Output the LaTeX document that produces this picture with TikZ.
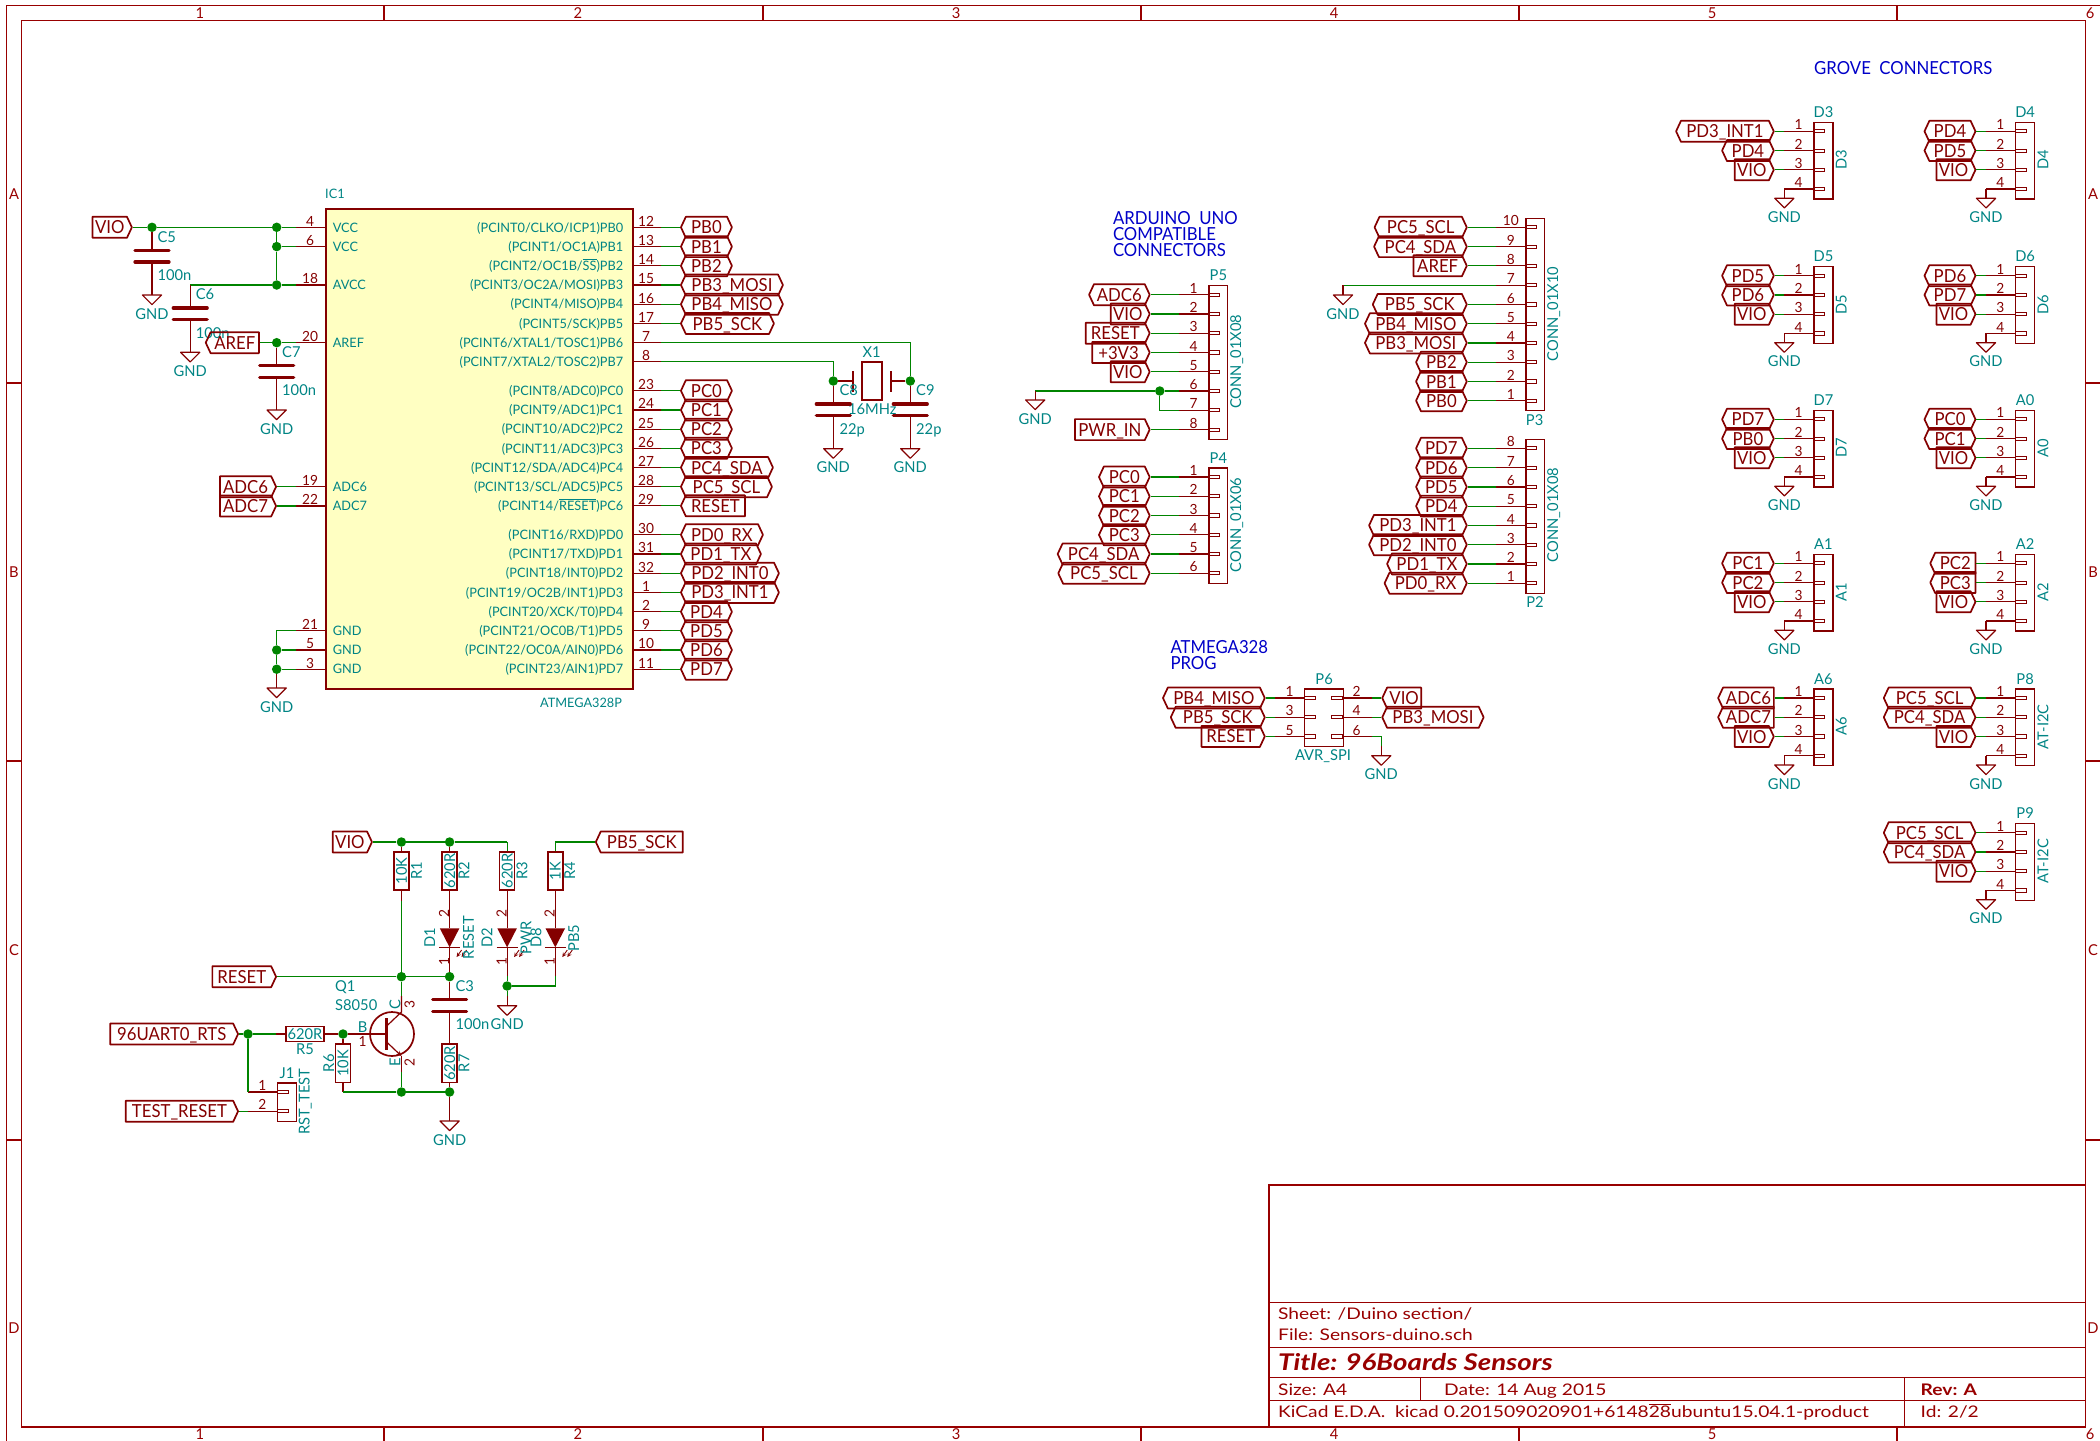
\documentclass[tikz,border=0pt]{standalone}
\usepackage{fontspec}
\setmainfont[FakeStretch=0.98]{Lato}
\newfontfamily\labelface[FakeStretch=0.93]{Lato}
\newfontfamily\sheetface[FakeStretch=1.2]{Lato}
\usepackage{tikz}
\usetikzlibrary{shapes, positioning, calc}
\definecolor{kired}{HTML}{840000}
\definecolor{kiframe}{HTML}{980000}
\definecolor{kigreen}{HTML}{008400}
\definecolor{kiteal}{HTML}{008484}
\definecolor{kiblue}{HTML}{0000C8}
\definecolor{kiyellow}{HTML}{FFFFC2}

\newcommand{\labelfont}{\labelface\fontsize{18}{16}\selectfont}
\newcommand{\fieldfont}{\fontsize{15}{15}\selectfont}
\newcommand{\pinfont}{\fontsize{13}{13}\selectfont}
\newcommand{\numfont}{\fontsize{14}{14}\selectfont}
\newcommand{\sheetfont}{\sheetface\fontsize{16}{16}\selectfont}
\newcommand{\pinbar}[1]{$\overline{\mbox{#1}}$}

% SYMBOLS
\newcommand{\gndsym}[3]{%
  \coordinate (#1) at (#2,#3);
  \draw[symline] (#2-9.6,#3) -- (#2+9.6,#3) -- (#2,#3+9.6) -- cycle;
  \node[fieldtext] (#1text) at (#2,#3+18.6) {GND};
}
\newcommand{\capsym}[3]{%
  \coordinate (#1t) at (#2,#3);
  \coordinate (#1b) at (#2,#3+11.6);
  \draw[plate] (#2-17,#3) -- (#2+17,#3);
  \draw[plate] (#2-17,#3+11.6) -- (#2+17,#3+11.6);
}
\newcommand{\ledsym}[2]{%
  \coordinate (#1a) at (#2,928.3);
  \coordinate (#1k) at (#2,947.3);
  \fill[kired] (#1a) ++(-9.8,0) -- ++(19.6,0) -- (#1k) -- cycle;
  \draw[symline] (#2-10.5,947.3) -- (#2+10.5,947.3);
  \draw[symthin, -stealth] (#2+12,950) -- (#2+7,957);
  \draw[symthin, -stealth] (#2+17,950) -- (#2+12,957);
  \node[pinnum, rotate=90] (#1two) at (#2-5.6,914) {2};
  \node[pinnum, rotate=90] (#1one) at (#2-5.6,961.7) {1};
}
% connector pin entering a box from the left, #4 is the box edge
\newcommand{\connpin}[4]{%
  \coordinate (#1-s) at (#4-29,#3);
  \draw[pinline] (#1-s) -- (#4,#3);
  \draw[symthin] (#4,#3-1.6) rectangle (#4+11.5,#3+1.6);
  \node[pinnum] (#1-n) at (#4-14.6,#3-6.4) {#2};
}
% the same from the right
\newcommand{\connpinr}[4]{%
  \coordinate (#1-s) at (#4+29,#3);
  \draw[pinline] (#1-s) -- (#4,#3);
  \draw[symthin] (#4,#3-1.6) rectangle (#4-11,#3+1.6);
  \node[pinnum] (#1-n) at (#4+13.8,#3-6.4) {#2};
}

\begin{document}
\begin{tikzpicture}[x=1pt, y=-1pt,
    wire/.style={draw=kigreen, line width=1.2pt},
    pinline/.style={draw=kired, line width=1.2pt},
    symline/.style={draw=kired, line width=1.2pt, line join=round},
    symthin/.style={draw=kired, line width=0.9pt},
    plate/.style={draw=kired, line width=3.2pt, line cap=round},
    framel/.style={draw=kiframe, line width=1.2pt},
    dot/.style={circle, fill=kigreen, inner sep=0pt, minimum size=9.5pt},
    glabel/.style={signal, draw=kired, line width=1.7pt, line join=round,
      signal pointer angle=130, minimum height=21pt, inner xsep=0pt,
      inner ysep=0pt, text=kired, font=\labelfont, text height=13pt, text depth=0pt},
    hexlabel/.style={glabel, signal to=west and east},
    inlabel/.style={glabel, signal to=east},
    outlabel/.style={glabel, signal to=west},
    fieldtext/.style={text=kiteal, font=\fieldfont, inner sep=0pt,
      text height=10.8pt, text depth=0pt},
    pintext/.style={text=kiteal, font=\pinfont, inner sep=0pt,
      text height=9.4pt, text depth=0pt},
    pinnum/.style={text=kired, font=\numfont, inner sep=0pt,
      text height=10pt, text depth=0pt},
    bluetext/.style={text=kiblue, font=\labelfont, inner sep=0pt, align=left},
    sheettext/.style={text=kiframe, font=\sheetfont, inner sep=0pt, anchor=west,
      text height=11.5pt, text depth=0pt},
    zonetext/.style={text=kiframe, font=\fieldfont, inner sep=0pt,
      text height=10.8pt, text depth=0pt},
    connbox/.style={draw=kired, line width=1.2pt, inner sep=0pt, anchor=north west},
    resh/.style={draw=kired, line width=1.7pt, minimum width=38.6pt,
      minimum height=15pt, inner sep=0pt, text=kiteal, font=\fieldfont,
      text height=10.8pt, text depth=0pt},
    resv/.style={resh, rotate=90}]

  \useasboundingbox (0,0) rectangle (2100,1440);
  \clip (0,0) rectangle (2100,1440);

  % FRAME

  \draw[framel] (6.3,5.7) rectangle (2110,1450);
  \draw[framel] (21.7,20.3) rectangle (2085.7,1427);
  \foreach \tx in {384,763,1141,1519,1897} {
    \draw[framel] (\tx,5.7) -- (\tx,20.3);
    \draw[framel] (\tx,1427) -- (\tx,1445);
  }
  \foreach \ty in {383,761,1140} {
    \draw[framel] (6.3,\ty) -- (21.7,\ty);
    \draw[framel] (2085.7,\ty) -- (2105,\ty);
  }
  \foreach \zn/\tx in {1/200,2/578,3/956,4/1334,5/1712,6/2090} {
    \node[zonetext] (zonetop\zn) at (\tx,13) {\zn};
    \node[zonetext] (zonebot\zn) at (\tx,1434.5) {\zn};
  }
  \foreach \zn/\ty in {A/194,B/572,C/950,D/1328} {
    \node[zonetext] (zoneleft\zn) at (14,\ty) {\zn};
    \node[zonetext] (zoneright\zn) at (2093,\ty) {\zn};
  }

  % TITLE BLOCK

  \draw[framel] (1269,1185) rectangle (2085.7,1427);
  \draw[framel] (1269,1302.3) -- (2085.7,1302.3);
  \draw[framel] (1269,1347.7) -- (2085.7,1347.7);
  \draw[framel] (1269,1377.7) -- (2085.7,1377.7);
  \draw[framel] (1269,1400.3) -- (2085.7,1400.3);
  \draw[framel] (1420.7,1377.7) -- (1420.7,1400.3);
  \draw[framel] (1904.2,1377.7) -- (1904.2,1427);
  \node[sheettext] (sheetname) at (1278,1314) {Sheet: /Duino section/};
  \node[sheettext] (sheetfile) at (1278,1334.7) {File: Sensors-duino.sch};
  \node[sheettext, font=\sheetface\fontsize{23}{23}\selectfont\bfseries\itshape,
    text height=16.5pt] (sheettitle) at (1278,1362.3) {Title: 96Boards Sensors};
  \node[sheettext] (sheetsize) at (1278,1390) {Size: A4};
  \node[sheettext] (sheetdate) at (1444,1390) {Date: 14 Aug 2015};
  \node[sheettext, font=\sheetfont\bfseries] (sheetrev) at (1920.5,1390) {Rev: A};
  \node[sheettext] (sheetkicad) at (1278,1411.7)
    {KiCad E.D.A.\ \ kicad 0.201509020901+6148\pinbar{28}ubuntu15.04.1-product};
  \node[sheettext] (sheetid) at (1920.5,1411.7) {Id: 2/2};

  % ATMEGA

  \node[draw=kired, line width=2pt, fill=kiyellow, minimum width=307pt,
    minimum height=480pt, inner sep=0pt, anchor=north west] (ic) at (325,208) {};
  \node[pintext, anchor=west] (icname) at (325,193.3) {IC1};
  \node[pintext] (icvalue) at (581,702.7) {ATMEGA328P};

  \foreach \y/\n/\ptxt/\shp/\lbw/\net in {
    227.3/12/{(PCINT0/CLKO/ICP1)PB0}/hexlabel/51/PB0,
    246.6/13/{(PCINT1/OC1A)PB1}/hexlabel/51/PB1,
    265.8/14/{(PCINT2/OC1B/\pinbar{SS})PB2}/hexlabel/51/PB2,
    285/15/{(PCINT3/OC2A/MOSI)PB3}/hexlabel/102/{PB3\_MOSI},
    304.2/16/{(PCINT4/MISO)PB4}/hexlabel/102/{PB4\_MISO},
    323.5/17/{(PCINT5/SCK)PB5}/hexlabel/93/{PB5\_SCK},
    390.7/23/{(PCINT8/ADC0)PC0}/hexlabel/51/PC0,
    410/24/{(PCINT9/ADC1)PC1}/hexlabel/51/PC1,
    429.2/25/{(PCINT10/ADC2)PC2}/hexlabel/51/PC2,
    448.3/26/{(PCINT11/ADC3)PC3}/hexlabel/51/PC3,
    467.5/27/{(PCINT12/SDA/ADC4)PC4}/hexlabel/92/{PC4\_SDA},
    486.7/28/{(PCINT13/SCL/ADC5)PC5}/hexlabel/91/{PC5\_SCL},
    505.8/29/{(PCINT14/\pinbar{RESET})PC6}/outlabel/64/RESET,
    534.7/30/{(PCINT16/RXD)PD0}/hexlabel/82/{PD0\_RX},
    554/31/{(PCINT17/TXD)PD1}/hexlabel/80/{PD1\_TX},
    573.2/32/{(PCINT18/INT0)PD2}/hexlabel/98/{PD2\_INT0},
    592.4/1/{(PCINT19/OC2B/INT1)PD3}/hexlabel/98/{PD3\_INT1},
    611.7/2/{(PCINT20/XCK/T0)PD4}/hexlabel/51/PD4,
    630.8/9/{(PCINT21/OC0B/T1)PD5}/hexlabel/51/PD5,
    650/10/{(PCINT22/OC0A/AIN0)PD6}/hexlabel/51/PD6,
    669.2/11/{(PCINT23/AIN1)PD7}/hexlabel/51/PD7} {
    \coordinate (pe\n) at (660.7,\y);
    \node[\shp, minimum width=\lbw pt, anchor=west] (lab\n) at (680,\y) {\net};
    \draw[wire] (pe\n) -- (lab\n.west);
    \draw[pinline] (632,\y) -- (pe\n);
    \node[pinnum] (pn\n) at (646,\y-6.2) {\n};
    \node[pintext, anchor=east] (pt\n) at (623.4,\y) {\ptxt};
  }
  \foreach \y/\n/\ptxt in {342.7/7/{(PCINT6/XTAL1/TOSC1)PB6},
    361.7/8/{(PCINT7/XTAL2/TOSC2)PB7}} {
    \coordinate (pe\n) at (660.7,\y);
    \draw[pinline] (632,\y) -- (pe\n);
    \node[pinnum] (pn\n) at (646,\y-6.2) {\n};
    \node[pintext, anchor=east] (pt\n) at (623.4,\y) {\ptxt};
  }
  \foreach \y/\n/\ptxt in {227.3/4/VCC, 246.6/6/VCC, 285/18/AVCC, 342.7/20/AREF,
    486.7/19/ADC6, 506/22/ADC7, 630.8/21/GND, 650/5/GND, 669.2/3/GND} {
    \coordinate (pw\n) at (296,\y);
    \draw[pinline] (325,\y) -- (pw\n);
    \node[pinnum] (pn\n) at (310,\y-6.2) {\n};
    \node[pintext, anchor=west] (pt\n) at (332.6,\y) {\ptxt};
  }

  % SUPPLY AND DECOUPLING

  \node[inlabel, minimum width=39.4pt, anchor=east] (vioic) at (132.8,227.3) {VIO};
  \node[dot] (dotcfive) at (152,227.3) {};
  \node[dot] (dotvcc) at (276.7,227.3) {};
  \node[dot] (dotvcctwo) at (276.7,246.6) {};
  \node[dot] (dotavcc) at (276.7,285) {};
  \node[dot] (dotaref) at (276.7,342.7) {};
  \draw[wire] (vioic.east) -- (dotcfive) -- (dotvcc) -- (pw4);
  \draw[wire] (dotvcc) -- (dotvcctwo) -- (dotavcc);
  \draw[wire] (dotvcctwo) -- (pw6);
  \draw[wire] (dotavcc) -- (pw18);
  \capsym{cfive}{152}{250.3}
  \gndsym{gndcfive}{152}{295}
  \draw[pinline] (dotcfive) -- (cfivet);
  \draw[pinline] (cfiveb) -- (gndcfive);
  \node[fieldtext, anchor=west] (cfivename) at (157.3,236.7) {C5};
  \node[fieldtext, anchor=west] (cfivevalue) at (157.3,275) {100n};

  \capsym{csix}{190.2}{308}
  \gndsym{gndcsix}{190.2}{352.3}
  \draw[wire] (dotavcc) -- (190.2,285);
  \draw[pinline] (190.2,285) -- (csixt);
  \draw[pinline] (csixb) -- (gndcsix);
  \node[fieldtext, anchor=west] (csixname) at (195.6,294) {C6};
  \node[fieldtext, anchor=west] (csixvalue) at (195.6,332.7) {100n};

  \node[outlabel, minimum width=53.2pt, anchor=west] (arefic) at (204.8,342.7) {AREF};
  \draw[wire] (arefic.east) -- (dotaref) -- (pw20);
  \capsym{cseven}{276.7}{365.7}
  \gndsym{gndcseven}{276.7}{410}
  \draw[pinline] (dotaref) -- (csevent);
  \draw[pinline] (csevenb) -- (gndcseven);
  \node[fieldtext, anchor=west] (csevenname) at (282,351.7) {C7};
  \node[fieldtext, anchor=west] (csevenvalue) at (282,390) {100n};

  \node[inlabel, minimum width=56pt, anchor=east] (adcsix) at (277,486.7) {ADC6};
  \node[inlabel, minimum width=56pt, anchor=east] (adcseven) at (277,506) {ADC7};
  \draw[wire] (adcsix.east) -- (pw19);
  \draw[wire] (adcseven.east) -- (pw22);

  \node[dot] (dotgndtwo) at (276.7,650) {};
  \node[dot] (dotgndthree) at (276.7,669.2) {};
  \gndsym{gndic}{276.7}{688}
  \draw[wire] (pw21) -- (276.7,630.8) -- (dotgndtwo) -- (dotgndthree);
  \draw[wire] (dotgndtwo) -- (pw5);
  \draw[wire] (dotgndthree) -- (pw3);
  \draw[pinline] (dotgndthree) -- (gndic);

  % CRYSTAL

  \node[dot] (dotceight) at (833.3,381) {};
  \node[dot] (dotcnine) at (910.3,381) {};
  \draw[wire] (pe8) -- (833.3,361.7) -- (dotceight);
  \draw[wire] (pe7) -- (910.3,342.7) -- (dotcnine);
  \node[draw=kired, line width=1.7pt, minimum width=19.4pt, minimum height=38.6pt,
    inner sep=0pt] (xtal) at (872,381) {};
  \coordinate (xtalleft) at (852.7,381);
  \coordinate (xtalright) at (891,381);
  \draw[line width=2pt, draw=kired] (852.7,371) -- (852.7,391.7);
  \draw[line width=2pt, draw=kired] (891,371) -- (891,391.7);
  \draw[pinline] (dotceight) -- (xtalleft);
  \draw[pinline] (dotcnine) -- (xtalright);
  \node[fieldtext] (xtalname) at (871.7,352.3) {X1};
  \node[fieldtext] (xtalvalue) at (872.3,409.3) {16MHz};
  \capsym{ceight}{833.3}{404}
  \capsym{cnine}{910.3}{404}
  \gndsym{gndceight}{833.3}{448.7}
  \gndsym{gndcnine}{910.3}{448.7}
  \draw[pinline] (dotceight) -- (ceightt);
  \draw[pinline] (ceightb) -- (gndceight);
  \draw[pinline] (dotcnine) -- (cninet);
  \draw[pinline] (cnineb) -- (gndcnine);
  \node[fieldtext, anchor=west] (ceightname) at (839.3,390) {C8};
  \node[fieldtext, anchor=west] (ceightvalue) at (839.3,429) {22p};
  \node[fieldtext, anchor=west] (cninename) at (916,390) {C9};
  \node[fieldtext, anchor=west] (cninevalue) at (916,429) {22p};

  % RESET AND LEDS

  \node[inlabel, minimum width=39.2pt, anchor=east] (vioreset) at (372.9,842) {VIO};
  \node[dot] (dotrone) at (401.4,842) {};
  \node[dot] (dotrtwo) at (449.6,842) {};
  \node[resv] (rone) at (401.4,871) {10K};
  \node[resv] (rtwo) at (449.6,871) {620R};
  \node[resv] (rthree) at (507.1,871) {620R};
  \node[resv] (rfour) at (555.3,871) {1K};
  \node[outlabel, minimum width=87pt, anchor=west] (sckled) at (594.9,842) {PB5\_SCK};
  \draw[wire] (vioreset.east) -- (dotrone) -- (dotrtwo) -- (507.1,842);
  \draw[wire] (sckled.west) -- (555.3,842);
  \draw[pinline] (dotrone) -- (rone.east);
  \draw[pinline] (dotrtwo) -- (rtwo.east);
  \draw[wire] (507.1,842) -- (rthree.east);
  \draw[wire] (555.3,842) -- (rfour.east);
  \foreach \rname/\rx/\rl in {R1/416.5/rone, R2/464/rtwo, R3/522/rthree, R4/569.6/rfour} {
    \node[fieldtext, rotate=90] (\rl name) at (\rx,871) {\rname};
  }

  \ledsym{done}{449.6}
  \ledsym{dtwo}{507.1}
  \ledsym{deight}{555.3}
  \draw[pinline] (rtwo.west) -- (donea);
  \draw[pinline] (rthree.west) -- (dtwoa);
  \draw[pinline] (rfour.west) -- (deighta);
  \node[fieldtext, rotate=90] (donename) at (429.6,938) {D1};
  \node[fieldtext, rotate=90] (donevalue) at (468.4,937.7) {RESET};
  \node[fieldtext, rotate=90] (dtwoname) at (487,938) {D2};
  \node[fieldtext, rotate=90] (dtwovalue) at (526,938) {PWR};
  \node[fieldtext, rotate=90] (deightname) at (536,937.7) {D8};
  \node[fieldtext, rotate=90] (deightvalue) at (573.7,938) {PB5};

  \node[inlabel, minimum width=63.7pt, anchor=east] (resetin) at (277,976.7) {RESET};
  \node[dot] (dotreset) at (401.4,976.7) {};
  \node[dot] (dotcthree) at (449.6,976.7) {};
  \node[dot] (dotledgnd) at (507.1,986) {};
  \draw[wire] (resetin.east) -- (dotreset) -- (dotcthree);
  \draw[wire] (rone.west) -- (dotreset) -- (401.4,1012);
  \draw[pinline] (rone.west) -- ++(0,9.7);
  \draw[pinline] (donek) -- (dotcthree);
  \draw[pinline] (dtwok) -- (507.1,976);
  \draw[wire] (507.1,976) -- (dotledgnd);
  \draw[pinline] (deightk) -- (555.3,976);
  \draw[wire] (555.3,976) -- (555.3,986) -- (dotledgnd);
  \gndsym{gndled}{507.1}{1005.7}
  \draw[wire] (dotledgnd) -- (507.1,996);
  \draw[pinline] (507.1,996) -- (gndled);

  \capsym{cthree}{449.6}{999.7}
  \node[resv] (rseven) at (449.6,1063.2) {620R};
  \node[dot] (dotrseven) at (449.6,1092) {};
  \gndsym{gndrseven}{449.6}{1121}
  \draw[pinline] (dotcthree) -- (cthreet);
  \draw[pinline] (cthreeb) -- (rseven.east);
  \draw[pinline] (rseven.west) -- (dotrseven) -- (gndrseven);
  \node[fieldtext, anchor=west] (cthreename) at (455.3,985.7) {C3};
  \node[fieldtext, anchor=west] (cthreevalue) at (455.3,1024) {100n};
  \node[fieldtext, rotate=90] (rsevenname) at (464,1063.2) {R7};

  % TRANSISTOR

  \node[circle, draw=kired, line width=1.7pt, minimum size=44pt, inner sep=0pt] (qone) at (392,1034) {};
  \draw[line width=3pt, draw=kired] (386.7,1018) -- (386.7,1050);
  \coordinate (qbase) at (386.7,1034);
  \coordinate (qcoll) at (401.4,1012);
  \coordinate (qemit) at (401.4,1056);
  \draw[pinline] (386.7,1026) -- (qcoll) -- (401.4,996);
  \draw[pinline, -stealth] (386.7,1042) -- (qemit);
  \node[dot] (dotemit) at (401.4,1092) {};
  \node[dot] (dotbase) at (343,1034) {};
  \draw[pinline] (qemit) -- (401.4,1072);
  \draw[wire] (401.4,1072) -- (dotemit);
  \draw[pinline] (dotbase) -- (qbase);
  \node[fieldtext, anchor=west] (qonename) at (335,985.7) {Q1};
  \node[fieldtext, anchor=west] (qonevalue) at (335,1005) {S8050};
  \node[fieldtext, rotate=90] (qonec) at (395,1005) {C};
  \node[pinnum, rotate=90] (qonethree) at (409.6,1005) {3};
  \node[fieldtext] (qoneb) at (362.7,1027) {B};
  \node[pinnum] (qoneone) at (362.7,1041.7) {1};
  \node[fieldtext, rotate=90] (qonee) at (395,1062.3) {E};
  \node[pinnum, rotate=90] (qonetwo) at (409.6,1062.3) {2};

  \node[inlabel, minimum width=127.8pt, anchor=east] (rts) at (239,1034) {96UART0\_RTS};
  \node[dot] (dotrts) at (248,1034) {};
  \node[resh] (rfive) at (305,1034) {620R};
  \node[resv] (rsix) at (343,1063.2) {10K};
  \draw[wire] (rts.east) -- (dotrts) -- (276,1034);
  \draw[pinline] (276,1034) -- (rfive.west);
  \draw[pinline] (rfive.east) -- (dotbase);
  \draw[pinline] (dotbase) -- (rsix.east);
  \draw[pinline] (rsix.west) -- (343,1092);
  \draw[wire] (343,1092) -- (dotemit) -- (dotrseven);
  \node[fieldtext] (rfivename) at (305,1049) {R5};
  \node[fieldtext, rotate=90] (rsixname) at (328.8,1063.2) {R6};

  \node[connbox, minimum width=18.7pt, minimum height=38.7pt] (jone) at (277,1082.3) {};
  \connpin{jone1}{1}{1092}{277}
  \connpin{jone2}{2}{1111.3}{277}
  \node[inlabel, minimum width=112.3pt, anchor=east] (testreset) at (239,1111.3) {TEST\_RESET};
  \draw[wire] (dotrts) -- (jone1-s);
  \draw[wire] (testreset.east) -- (jone2-s);
  \node[fieldtext, above=4pt of jone] (jonename) {J1};
  \node[fieldtext, rotate=90] (jonevalue) at (304.3,1101.7) {RST\_TEST};

  % UNO CONNECTORS

  \node[bluetext, anchor=north west] (unotitle) at (1112.8,211)
    {ARDUINO\ \ UNO\\COMPATIBLE\\CONNECTORS};

  \node[connbox, minimum width=18.9pt, minimum height=154pt] (pfive) at (1208.3,285) {};
  \node[fieldtext, above=4pt of pfive] (pfivename) {P5};
  \node[fieldtext, rotate=90] (pfivevalue) at (1235.7,361.7) {CONN\_01X08};
  \foreach \n/\y/\shp/\lbw/\net in {1/294.7/hexlabel/60.6/ADC6, 2/314/inlabel/38.9/VIO,
    3/333.2/inlabel/64/RESET, 4/352.5/inlabel/57.4/+3V3, 5/371.8/inlabel/38.9/VIO,
    8/429.6/inlabel/74.7/{PWR\_IN}} {
    \connpin{pfive\n}{\n}{\y}{1208.3}
    \node[\shp, minimum width=\lbw pt, anchor=east] (pfivelab\n) at (1150.6,\y) {\net};
    \draw[wire] (pfivelab\n.east) -- (pfive\n-s);
  }
  \connpin{pfive6}{6}{391}{1208.3}
  \connpin{pfive7}{7}{410.3}{1208.3}
  \node[dot] (dotpfive) at (1159.8,391) {};
  \gndsym{gndpfive}{1035.2}{400}
  \draw[wire] (pfive6-s) -- (dotpfive) -- (1035.2,391);
  \draw[wire] (dotpfive) -- (1159.8,410.3) -- (pfive7-s);
  \draw[pinline] (1035.2,391) -- (gndpfive);

  \node[connbox, minimum width=18.9pt, minimum height=115.4pt] (pfour) at (1208.3,467.3) {};
  \node[fieldtext, above=4pt of pfour] (pfourname) {P4};
  \node[fieldtext, rotate=90] (pfourvalue) at (1235.7,525) {CONN\_01X06};
  \foreach \n/\y/\lbw/\net in {1/477/50.7/PC0, 2/496.3/50.7/PC1, 3/515.5/50.7/PC2,
    4/534.8/50.7/PC3, 5/554/92/{PC4\_SDA}, 6/573.3/91.4/{PC5\_SCL}} {
    \connpin{pfour\n}{\n}{\y}{1208.3}
    \node[hexlabel, minimum width=\lbw pt, anchor=east] (pfourlab\n) at (1150.6,\y) {\net};
    \draw[wire] (pfourlab\n.east) -- (pfour\n-s);
  }

  \node[connbox, minimum width=18.8pt, minimum height=192.3pt] (pthree) at (1525.4,217.7) {};
  \node[fieldtext] (pthreename) at (1534.6,420) {P3};
  \node[fieldtext, rotate=90] (pthreevalue) at (1552.7,314) {CONN\_01X10};
  \foreach \n/\y/\shp/\lbw/\net in {10/227.3/hexlabel/92.2/{PC5\_SCL}, 9/246.6/hexlabel/92.7/{PC4\_SDA},
    8/265.8/inlabel/53.3/AREF, 6/304.4/hexlabel/94/{PB5\_SCK}, 5/323.7/hexlabel/101.8/{PB4\_MISO},
    4/342.9/hexlabel/101.8/{PB3\_MOSI}, 3/362.2/hexlabel/50.7/PB2, 2/381.5/hexlabel/50.7/PB1,
    1/400.7/hexlabel/50.7/PB0} {
    \connpin{pthree\n}{\n}{\y}{1525.4}
    \node[\shp, minimum width=\lbw pt, anchor=east] (pthreelab\n) at (1467.7,\y) {\net};
    \draw[wire] (pthreelab\n.east) -- (pthree\n-s);
  }
  \connpin{pthree7}{7}{285.1}{1525.4}
  \gndsym{gndpthree}{1343}{295}
  \draw[wire] (pthree7-s) -- (1343,285.1);
  \draw[pinline] (1343,285.1) -- (gndpthree);

  \node[connbox, minimum width=18.8pt, minimum height=154pt] (ptwo) at (1525.4,438.7) {};
  \node[fieldtext] (ptwoname) at (1535,602.3) {P2};
  \node[fieldtext, rotate=90] (ptwovalue) at (1552.7,515) {CONN\_01X08};
  \foreach \n/\y/\lbw/\net in {8/448.3/50.7/PD7, 7/467.6/50.7/PD6, 6/486.9/50.7/PD5,
    5/506.1/50.7/PD4, 4/525.4/97.7/{PD3\_INT1}, 3/544.7/97.7/{PD2\_INT0},
    2/563.9/79.7/{PD1\_TX}, 1/583.2/82.2/{PD0\_RX}} {
    \connpin{ptwo\n}{\n}{\y}{1525.4}
    \node[hexlabel, minimum width=\lbw pt, anchor=east] (ptwolab\n) at (1467.7,\y) {\net};
    \draw[wire] (ptwolab\n.east) -- (ptwo\n-s);
  }

  % PROG HEADER

  \node[bluetext, anchor=north west] (progtitle) at (1170.3,640) {ATMEGA328\\PROG};
  \node[connbox, minimum width=38.6pt, minimum height=57.7pt] (psix) at (1304.2,688.3) {};
  \node[fieldtext, above=4pt of psix] (psixname) {P6};
  \node[fieldtext] (psixvalue) at (1323,755) {AVR\_SPI};
  \foreach \n/\y/\shp/\lbw/\net in {1/698/hexlabel/101.8/{PB4\_MISO}, 3/717.3/hexlabel/94/{PB5\_SCK},
    5/736.4/inlabel/63.2/RESET} {
    \connpin{psix\n}{\n}{\y}{1304.2}
    \node[\shp, minimum width=\lbw pt, anchor=east] (psixlab\n) at (1265.7,\y) {\net};
    \draw[wire] (psixlab\n.east) -- (psix\n-s);
  }
  \foreach \n/\y/\shp/\lbw/\net in {2/698/outlabel/38.9/VIO, 4/717.3/hexlabel/101.4/{PB3\_MOSI}} {
    \connpinr{psix\n}{\n}{\y}{1342.8}
    \node[\shp, minimum width=\lbw pt, anchor=west] (psixlab\n) at (1381.3,\y) {\net};
    \draw[wire] (psixlab\n.west) -- (psix\n-s);
  }
  \connpinr{psix6}{6}{736.4}{1342.8}
  \gndsym{gndpsix}{1381.3}{755.7}
  \draw[wire] (psix6-s) -- (1381.3,736.4) -- (1381.3,746);
  \draw[pinline] (1381.3,746) -- (gndpsix);

  % GROVE CONNECTORS

  \node[bluetext, anchor=west] (grovetitle) at (1814,67.7) {GROVE\ \ CONNECTORS};
  \foreach \gname/\gside/\gx/\gy/\sha/\wda/\txa/\shb/\wdb/\txb in {
    D3/D3/1813.3/131.3/hexlabel/97.7/{PD3\_INT1}/hexlabel/51.7/PD4,
    D4/D4/2015/131.3/hexlabel/51/PD4/hexlabel/51/PD5,
    D5/D5/1813.3/275.7/hexlabel/51.7/PD5/hexlabel/51.7/PD6,
    D6/D6/2015/275.7/hexlabel/51/PD6/hexlabel/51/PD7,
    D7/D7/1813.3/419.3/hexlabel/51.7/PD7/hexlabel/51.7/PB0,
    A0/A0/2015/419.3/hexlabel/51/PC0/hexlabel/51/PC1,
    A1/A1/1813.3/563.3/hexlabel/51.7/PC1/hexlabel/51.7/PC2,
    A2/A2/2015/563.3/outlabel/45.3/PC2/outlabel/45.3/PC3,
    A6/A6/1813.3/698/outlabel/55.7/ADC6/outlabel/55.7/ADC7,
    P8/AT-I2C/2015/698/hexlabel/91.7/{PC5\_SCL}/hexlabel/91.7/{PC4\_SDA},
    P9/AT-I2C/2015/832.7/hexlabel/91.7/{PC5\_SCL}/hexlabel/91.7/{PC4\_SDA}} {
    \node[connbox, minimum width=19pt, minimum height=76.7pt] (\gname box) at (\gx,\gy-9.6) {};
    \node[fieldtext, above=4pt of \gname box] (\gname name) {\gname};
    \node[fieldtext, rotate=90] (\gname side) at (\gx+28,\gy+28.7) {\gside};
    \connpin{\gname one}{1}{\gy}{\gx}
    \connpin{\gname two}{2}{\gy+19.25}{\gx}
    \connpin{\gname three}{3}{\gy+38.5}{\gx}
    \connpin{\gname four}{4}{\gy+57.75}{\gx}
    \node[\sha, minimum width=\wda pt, anchor=east] (\gname laba) at (\gx-38.6,\gy) {\txa};
    \node[\shb, minimum width=\wdb pt, anchor=east] (\gname labb) at (\gx-38.6,\gy+19.25) {\txb};
    \node[inlabel, minimum width=39pt, anchor=east] (\gname labc) at (\gx-38.6,\gy+38.5) {VIO};
    \draw[wire] (\gname laba.east) -- (\gname one-s);
    \draw[wire] (\gname labb.east) -- (\gname two-s);
    \draw[wire] (\gname labc.east) -- (\gname three-s);
    \gndsym{\gname gnd}{\gx-29}{\gy+67}
    \draw[pinline] (\gname four-s) -- (\gname gnd);
  }

\end{tikzpicture}
\end{document}
